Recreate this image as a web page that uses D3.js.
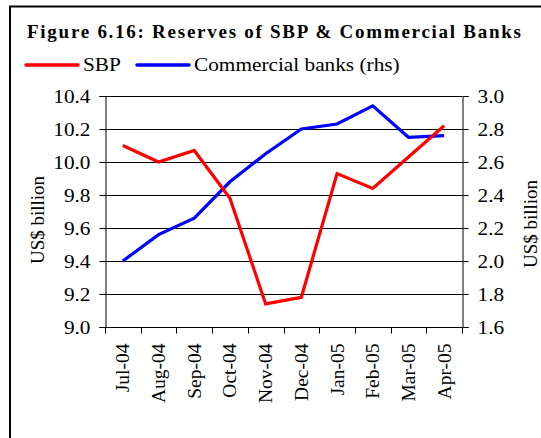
<!DOCTYPE html>
<html>
<head>
<meta charset="utf-8">
<script src="https://cdn.jsdelivr.net/npm/d3@7"></script>
<style>
  html, body { margin: 0; padding: 0; background: #fff; }
  svg text { font-family: "Liberation Serif", "Times New Roman", "DejaVu Serif", serif !important; fill: #000; }
</style>
</head>
<body>
<script>
// months on the x axis
const months = ["Jul-04", "Aug-04", "Sep-04", "Oct-04", "Nov-04", "Dec-04", "Jan-05", "Feb-05", "Mar-05", "Apr-05"];
// SBP reserves, lhs, US$ billion
const sbp = [10.10, 10.00, 10.07, 9.78, 9.14, 9.18, 9.93, 9.84, 10.03, 10.22];
// commercial banks reserves, rhs, US$ billion
const banks = [2.00, 2.16, 2.26, 2.48, 2.65, 2.80, 2.83, 2.94, 2.75, 2.76];
const leftTicks = [9.0, 9.2, 9.4, 9.6, 9.8, 10.0, 10.2, 10.4];
const rightTicks = [1.6, 1.8, 2.0, 2.2, 2.4, 2.6, 2.8, 3.0];

const W = 541, H = 438;
const plot = { left: 105, right: 462, top: 96, bottom: 327 };
const serif = "'Liberation Serif', 'Times New Roman', serif";
// the reference type is a bit wider than it is tall
const stretch = 1.12;

const svg = d3.select("body").append("svg").attr("width", W).attr("height", H);

// widen horizontal texts a little
const widen = (sel) => {
  sel.each(function () {
    const len = this.getComputedTextLength();
    d3.select(this).attr("textLength", len * stretch).attr("lengthAdjust", "spacingAndGlyphs");
  });
};

// outer frame (runs past right and bottom edge)
svg.append("rect")
  .attr("x", 10).attr("y", 6.5)
  .attr("width", W + 20).attr("height", H + 20)
  .attr("fill", "none").attr("stroke", "#000").attr("stroke-width", 2);

// title
svg.append("text")
  .attr("x", 27).attr("y", 38)
  .attr("font-family", serif)
  .attr("font-size", 19).attr("font-weight", "bold")
  .attr("textLength", 494).attr("lengthAdjust", "spacing")
  .text("Figure 6.16: Reserves of SBP & Commercial Banks");

// legend
const legend = [
  { name: "SBP", color: "#ff0000", x: 26 },
  { name: "Commercial banks (rhs)", color: "#0000ff", x: 137 },
];
legend.forEach((d) => {
  svg.append("line")
    .attr("x1", d.x).attr("x2", d.x + 52).attr("y1", 65).attr("y2", 65)
    .attr("stroke", d.color).attr("stroke-width", 3.5).attr("stroke-linecap", "round");
  svg.append("text")
    .attr("x", d.x + 57).attr("y", 71)
    .attr("font-family", serif)
    .attr("font-size", 19)
    .text(d.name)
    .call(widen);
});

// scales
const x = d3.scaleBand().domain(months).range([plot.left, plot.right]);
const yL = d3.scaleLinear().domain([9.0, 10.4]).range([plot.bottom, plot.top]);
const yR = d3.scaleLinear().domain([1.6, 3.0]).range([plot.bottom, plot.top]);

// gridlines
svg.append("g")
  .selectAll("line")
  .data(leftTicks)
  .enter()
  .append("line")
  .attr("x1", plot.left).attr("x2", plot.right)
  .attr("y1", (d) => Math.round(yL(d)) + 0.5).attr("y2", (d) => Math.round(yL(d)) + 0.5)
  .attr("stroke", "#000").attr("stroke-width", 1);

// left axis
const leftAxis = svg.append("g")
  .attr("transform", `translate(${plot.left + 0.5},0)`)
  .call(d3.axisLeft(yL).tickValues(leftTicks).tickFormat(d3.format(".1f")).tickSizeOuter(0).tickSize(6).tickPadding(9));

// right axis
const rightAxis = svg.append("g")
  .attr("transform", `translate(${plot.right + 0.5},0)`)
  .call(d3.axisRight(yR).tickValues(rightTicks).tickFormat(d3.format(".1f")).tickSizeOuter(0).tickSize(6).tickPadding(9));

[leftAxis, rightAxis].forEach((a) => {
  a.attr("font-family", serif);
  a.select(".domain").attr("stroke", "#000");
  a.selectAll("line").attr("stroke", "#000");
  a.selectAll("text")
    .attr("font-size", 19).attr("font-family", serif).attr("fill", "#000")
    .call(widen);
});

// bottom axis: ticks at the band edges
const bottomAxis = svg.append("g")
  .attr("transform", `translate(0,${plot.bottom + 0.5})`);
bottomAxis.append("line")
  .attr("x1", plot.left).attr("x2", plot.right)
  .attr("stroke", "#000");
bottomAxis.selectAll(".edge")
  .data(months.concat(["end"]))
  .enter()
  .append("line")
  .attr("class", "edge")
  .attr("x1", (d, i) => Math.round(plot.left + i * x.bandwidth()) + 0.5)
  .attr("x2", (d, i) => Math.round(plot.left + i * x.bandwidth()) + 0.5)
  .attr("y1", 0).attr("y2", 6)
  .attr("stroke", "#000");
bottomAxis.selectAll(".lab")
  .data(months)
  .enter()
  .append("text")
  .attr("class", "lab")
  .attr("font-family", serif)
  .attr("font-size", 19.5)
  .attr("text-anchor", "end")
  .attr("transform", (d) => `translate(${x(d) + x.bandwidth() / 2 + 6.5},16) rotate(-90)`)
  .text((d) => d);

// top border of the plot area
svg.append("line")
  .attr("x1", plot.left).attr("x2", plot.right)
  .attr("y1", plot.top + 0.5).attr("y2", plot.top + 0.5)
  .attr("stroke", "#000");

// axis titles
svg.append("text")
  .attr("font-family", serif)
  .attr("font-size", 19).attr("text-anchor", "middle")
  .attr("transform", `translate(44,220) rotate(-90)`)
  .text("US$ billion");
svg.append("text")
  .attr("font-family", serif)
  .attr("font-size", 19).attr("text-anchor", "middle")
  .attr("transform", `translate(537,224) rotate(-90)`)
  .text("US$ billion");

// lines
const cx = (d, i) => x(months[i]) + x.bandwidth() / 2;
svg.append("path")
  .datum(banks)
  .attr("fill", "none").attr("stroke", "#0000ff").attr("stroke-width", 3.2)
  .attr("d", d3.line().x(cx).y((d) => yR(d)));
svg.append("path")
  .datum(sbp)
  .attr("fill", "none").attr("stroke", "#ff0000").attr("stroke-width", 3.2)
  .attr("d", d3.line().x(cx).y((d) => yL(d)));
</script>
</body>
</html>
